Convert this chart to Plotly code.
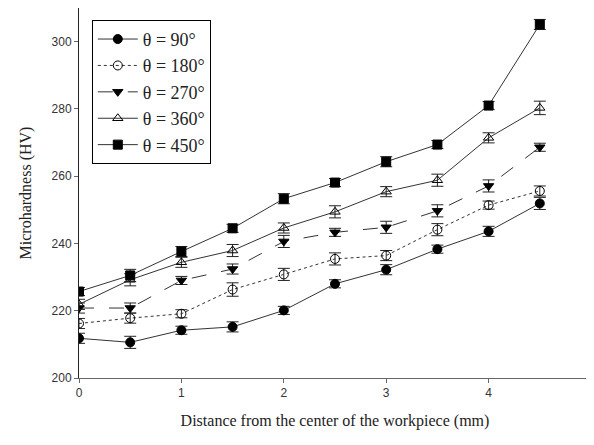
import plotly.graph_objects as go

x = [0, 0.5, 1, 1.5, 2, 2.5, 3, 3.5, 4, 4.5]

hv_90 = [211.8, 210.6, 214.2, 215.2, 220.1, 228.0, 232.2, 238.3, 243.6, 251.9]
hv_180 = [216.2, 217.8, 219.1, 226.3, 230.8, 235.4, 236.4, 244.1, 251.4, 255.6]
hv_270 = [220.8, 220.8, 229.0, 232.4, 240.6, 243.3, 244.8, 249.7, 257.1, 268.6]
hv_360 = [221.9, 229.2, 234.4, 237.9, 244.6, 249.4, 255.4, 258.8, 271.4, 280.3]
hv_450 = [225.7, 230.5, 237.6, 244.5, 253.3, 258.1, 264.3, 269.4, 281.0, 305.1]

err_90 = [1.5, 1.8, 1.2, 1.5, 1.2, 1.2, 1.5, 1.2, 1.5, 1.8]
err_180 = [1.5, 1.5, 1.2, 2.0, 1.8, 1.8, 1.5, 1.8, 1.2, 1.5]
err_270 = [1.5, 1.5, 1.2, 1.5, 1.8, 1.2, 1.8, 1.8, 1.8, 1.2]
err_360 = [1.5, 1.8, 1.5, 1.8, 1.5, 1.8, 1.5, 1.8, 1.5, 2.0]
err_450 = [1.2, 1.8, 1.5, 1.2, 1.5, 1.2, 1.5, 1.2, 1.2, 1.5]

labels = ["θ = 90°", "θ = 180°", "θ = 270°", "θ = 360°", "θ = 450°"]

series = [
    (hv_90, err_90, "circle", "solid"),
    (hv_180, err_180, "circle-open", "dot"),
    (hv_270, err_270, "triangle-down", "longdash"),
    (hv_360, err_360, "triangle-up-open", "solid"),
    (hv_450, err_450, "square", "solid"),
]

SERIF = "Liberation Serif"

fig = go.Figure()
for (vals, errs, sym, dash), name in zip(series, labels):
    fig.add_trace(go.Scatter(
        x=x, y=vals, name=name, mode="lines+markers",
        line=dict(color="#333333", width=1, dash=dash),
        marker=dict(symbol=sym, size=9, color="black",
                    line=dict(color="black", width=1)),
        error_y=dict(type="data", array=errs, visible=True,
                     color="#222222", thickness=1, width=6),
    ))

# page body has an 8px default margin, so the figure is sized to fit the window
fig.update_layout(
    width=586, height=437,
    margin=dict(l=71, r=3, t=0, b=67),
    paper_bgcolor="white", plot_bgcolor="white",
    showlegend=True,
    legend=dict(x=0.025, y=0.968, xanchor="left", yanchor="top",
                bordercolor="black", borderwidth=1, bgcolor="white",
                font=dict(family=SERIF, size=18, color="#222"),
                tracegroupgap=0, itemwidth=40),
    font=dict(family="Liberation Sans", color="#333"),
)
fig.update_xaxes(
    range=[0, 5], tickvals=[0, 1, 2, 3, 4, 5], automargin=False,
    showgrid=False, zeroline=False, showline=True, linecolor="#666", linewidth=1,
    ticks="outside", ticklen=4, tickcolor="#666",
    tickfont=dict(size=12, color="#333"),
    title=dict(text="Distance from the center of the workpiece (mm)",
               font=dict(family=SERIF, size=16, color="#222")),
)
fig.update_yaxes(
    range=[200, 310], tickvals=[200, 220, 240, 260, 280, 300], automargin=False,
    showgrid=False, zeroline=False, showline=True, linecolor="#222", linewidth=1,
    ticks="outside", ticklen=4, tickcolor="#666",
    tickfont=dict(size=12, color="#333"),
    title=dict(text="Microhardness (HV)",
               font=dict(family=SERIF, size=16, color="#222")),
)
fig.write_html("out.html")
